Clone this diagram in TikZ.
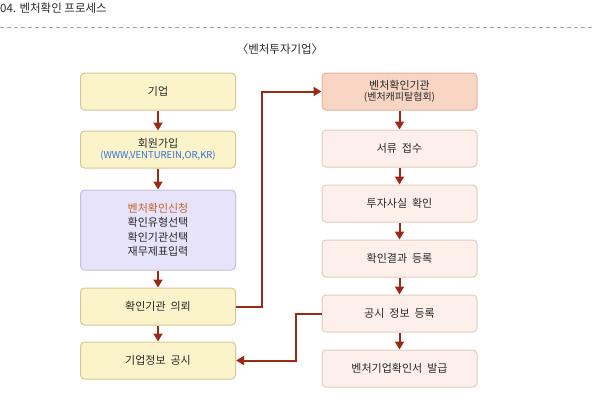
\documentclass[tikz,border=0pt]{standalone}
\usepackage{fontspec}
\setmainfont{Noto Sans CJK KR}
\usepackage{xcolor}
\usetikzlibrary{arrows.meta,positioning}

\definecolor{arrred}{HTML}{9B2A15}
\definecolor{txtgray}{HTML}{2A2A2A}
\definecolor{ylwfill}{HTML}{FBF3C9}
\definecolor{ylwline}{HTML}{D8C893}
\definecolor{prpfill}{HTML}{E7E3FA}
\definecolor{prpline}{HTML}{C6C0DC}
\definecolor{salfill}{HTML}{F9D6C4}
\definecolor{salline}{HTML}{DDB5A0}
\definecolor{pnkfill}{HTML}{FDF0EA}
\definecolor{pnkline}{HTML}{E2CCBE}
\definecolor{urlblue}{HTML}{2F6FE0}
\definecolor{orgtxt}{HTML}{C2652B}

\begin{document}
\begin{tikzpicture}[
  x=1pt,y=-1pt,
  node distance=17pt,
  font=\fontsize{11}{13}\selectfont,
  text=txtgray,
  box/.style={draw,line width=1pt,rounded corners=4pt,align=center,minimum width=155pt,minimum height=37pt,inner sep=1pt},
  leftbox/.style={box,draw=ylwline,fill=ylwfill},
  rightbox/.style={box,draw=pnkline,fill=pnkfill},
  arr/.style={-{Triangle[length=8pt,width=9pt]},line width=2pt,draw=arrred}
]
\useasboundingbox (0,0) rectangle (592,408);

% title and rule
\node[anchor=west,inner sep=0pt,font=\fontsize{11.5}{13}\selectfont] (title) at (0,8) {04. 벤처확인 프로세스};
\draw[gray!70,line width=1pt,dash pattern=on 4pt off 3pt] (0,27) -- (592,27);
\node[font=\fontsize{11.5}{13}\selectfont] (head) at (280,49) {〈벤처투자기업〉};

% left column
\node[leftbox] (company) at (158,91.5) {기업};
\node[leftbox,below=20pt of company] (join) {회원가입\\[-2pt]{\fontsize{9.5}{10}\selectfont\color{urlblue}(WWW,VENTUREIN,OR,KR)}};
\node[box,draw=prpline,fill=prpfill,minimum height=80pt,below=21pt of join,font=\fontsize{11}{14.5}\selectfont] (apply) {{\color{orgtxt}벤처확인신청}\\확인유형선택\\확인기관선택\\재무제표입력};
\node[leftbox,below=of apply] (request) {확인기관\ \ 의뢰};
\node[leftbox,below=16pt of request] (notice) {기업정보\ \ 공시};

% right column
\node[box,draw=salline,fill=salfill,at={(399.5,91.5)}] (agency) {벤처확인기관\\[-2pt]{\fontsize{10}{11}\selectfont(벤처캐피탈협회)}};
\node[rightbox,below=19pt of agency] (receive) {서류\ \ 접수};
\node[rightbox,below=of receive] (check) {투자사실\ \ 확인};
\node[rightbox,below=of check] (register) {확인결과\ \ 등록};
\node[rightbox,below=of register] (publish) {공시\ \ 정보\ \ 등록};
\node[rightbox,below=of publish] (issue) {벤처기업확인서\ \ 발급};

% arrows
\draw[arr] (company) -- (join);
\draw[arr] (join) -- (apply);
\draw[arr] (apply) -- (request);
\draw[arr] (request) -- (notice);
\draw[arr] (agency) -- (receive);
\draw[arr] (receive) -- (check);
\draw[arr] (check) -- (register);
\draw[arr] (register) -- (publish);
\draw[arr] (publish) -- (issue);
\draw[arr] (request.east) -- ++(26,0) |- (agency.west);
\draw[arr] (publish.west) -- ++(-26,0) |- (notice.east);
\end{tikzpicture}
\end{document}
